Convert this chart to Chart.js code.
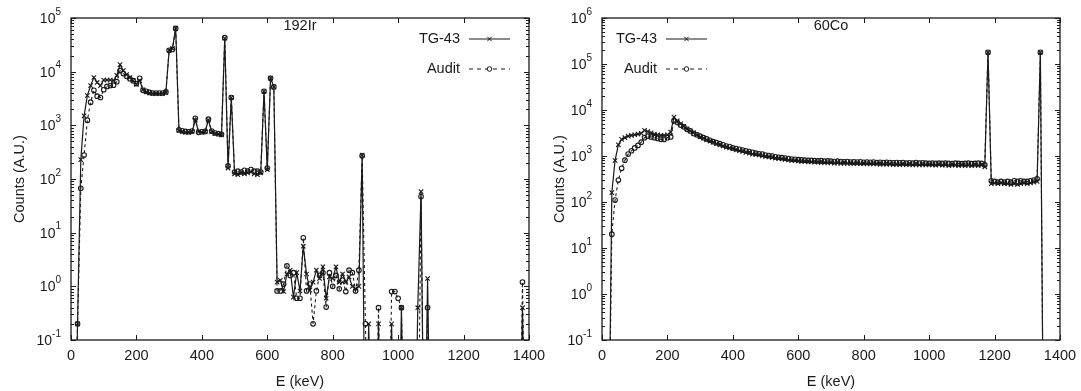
<!DOCTYPE html>
<html>
<head>
<meta charset="utf-8">
<title>192Ir / 60Co spectra</title>
<script src="https://cdn.jsdelivr.net/npm/chart.js@4.4.1/dist/chart.umd.min.js"></script>
<style>
  html, body { margin: 0; padding: 0; background: #fff; }
  #wrap { position: relative; width: 1081px; height: 391px; overflow: hidden; }
  .panel { position: absolute; top: 0; height: 391px; }
  #irPanel { left: 0; width: 560px; }
  #coPanel { left: 540px; width: 541px; }
</style>
</head>
<body>
<div id="wrap">
  <div class="panel" id="irPanel"><canvas id="irChart"></canvas></div>
  <div class="panel" id="coPanel"><canvas id="coChart"></canvas></div>
</div>
<script>
const FONT = "'Liberation Sans', Arial, Helvetica, sans-serif";
const INK = '#1a1a1a';
const EMPTY_BIN = 1e-4; // zero counts, drawn below the log axis

const seriesNames = ['TG-43', 'Audit'];
const xTickStep = 200;

// 192Ir spectrum, energy bins (keV)
const irEnergy = [
  10, 20, 30, 40, 50, 60, 70, 80, 90, 100,
  110, 120, 130, 140, 150, 160, 170, 180, 190, 200,
  210, 220, 230, 240, 250, 260, 270, 280, 290, 300,
  310, 320, 330, 340, 350, 360, 370, 380, 390, 400,
  410, 420, 430, 440, 450, 460, 470, 480, 490, 500,
  510, 520, 530, 540, 550, 560, 570, 580, 590, 600,
  610, 620, 630, 640, 650, 660, 670, 680, 690, 700,
  710, 720, 730, 740, 750, 760, 770, 780, 790, 800,
  810, 820, 830, 840, 850, 860, 870, 880, 890, 900,
  910, 920, 930, 940, 950, 960, 970, 980, 990, 1000,
  1010, 1020, 1050, 1060, 1070, 1080, 1090, 1100, 1370, 1380, 1390
];
const irTG43 = [
  0, 0.2, 230, 1500, 3600, 5500, 7800, 6300, 5500, 7000,
  7000, 7000, 6800, 8500, 13500, 10500, 8800, 7800, 6800, 5800,
  6800, 4600, 4200, 4000, 3900, 3900, 3900, 3900, 4100, 25000,
  27000, 65000, 800, 760, 740, 740, 760, 1250, 760, 740,
  760, 1250, 760, 700, 690, 660, 42000, 160, 3300, 125,
  120, 130, 125, 130, 135, 125, 120, 130, 4300, 150,
  7600, 5200, 1.2, 1.3, 0.8, 1.7, 2.0, 0.63, 1.8, 0.82,
  5.6, 1.7, 0.85, 1.2, 2.0, 1.4, 2.3, 0.6, 1.5, 1.4,
  2.3, 1.2, 1.7, 1.2, 1.5, 1.0, 0.9, 1.0, 280, 0,
  0.2, 0, 0, 0.2, 0, 0, 0, 0.2, 0, 0,
  0.4, 0, 0, 0.4, 58, 0, 1.4, 0, 0, 0.4, 0
];
const irAudit = [
  0, 0.2, 67, 280, 1250, 2700, 4500, 3500, 3300, 4600,
  5300, 5500, 5600, 6500, 10500, 9200, 8200, 7400, 6800, 6000,
  7500, 4500, 4300, 4100, 4000, 4000, 4000, 4000, 4200, 25000,
  26000, 64000, 820, 790, 770, 760, 780, 1350, 740, 760,
  770, 1300, 780, 720, 700, 680, 43000, 175, 3300, 135,
  140, 135, 145, 140, 150, 140, 140, 135, 4300, 160,
  7500, 5200, 0.82, 0.82, 1.1, 2.4, 1.6, 1.8, 0.6, 0.6,
  8, 0.82, 1.1, 0.2, 0.82, 1.6, 1.8, 0.41, 1.8, 1.0,
  1.6, 0.9, 1.3, 0.8, 2.0, 1.8, 0.82, 2.0, 270, 0.2,
  0, 0, 0, 0.4, 0, 0, 0, 0.8, 0.8, 0.6,
  0.4, 0, 0, 0, 47, 0, 0.4, 0, 0, 1.2, 0
];
const irDecades = [-1, 0, 1, 2, 3, 4, 5];

// 60Co spectrum, energy bins (keV)
const coEnergy = [
  20, 30, 40, 50, 60, 70, 80, 90, 100, 110,
  120, 130, 140, 150, 160, 170, 180, 190, 200, 210,
  220, 230, 240, 250, 260, 270, 280, 290, 300, 310,
  320, 330, 340, 350, 360, 370, 380, 390, 400, 410,
  420, 430, 440, 450, 460, 470, 480, 490, 500, 510,
  520, 530, 540, 550, 560, 570, 580, 590, 600, 610,
  620, 630, 640, 650, 660, 670, 680, 690, 700, 710,
  720, 730, 740, 750, 760, 770, 780, 790, 800, 810,
  820, 830, 840, 850, 860, 870, 880, 890, 900, 910,
  920, 930, 940, 950, 960, 970, 980, 990, 1000, 1010,
  1020, 1030, 1040, 1050, 1060, 1070, 1080, 1090, 1100, 1110,
  1120, 1130, 1140, 1150, 1160, 1170, 1180, 1190, 1200, 1210,
  1220, 1230, 1240, 1250, 1260, 1270, 1280, 1290, 1300, 1310,
  1320, 1330, 1340, 1350
];
const coTG43 = [
  0, 160, 800, 1750, 2300, 2500, 2700, 2800, 2900, 3000,
  3100, 3600, 3400, 3200, 3000, 2900, 2800, 2800, 2900, 3300,
  7000, 5800, 5000, 4400, 3900, 3500, 3200, 2900, 2600, 2450,
  2250, 2100, 2000, 1850, 1750, 1650, 1550, 1500, 1450, 1350,
  1300, 1250, 1200, 1150, 1100, 1080, 1050, 1000, 980, 950,
  920, 900, 870, 860, 840, 820, 800, 790, 780, 760,
  770, 740, 750, 730, 740, 720, 730, 710, 720, 700,
  710, 690, 700, 690, 700, 680, 690, 680, 690, 670,
  680, 670, 680, 660, 670, 660, 670, 650, 660, 650,
  660, 650, 660, 640, 650, 640, 650, 640, 650, 640,
  630, 650, 630, 640, 620, 640, 630, 620, 640, 620,
  630, 620, 630, 620, 640, 580, 180000, 250, 260, 250,
  260, 250, 250, 240, 250, 240, 250, 260, 250, 260,
  270, 280, 180000, 0
];
const coAudit = [
  0, 20, 110, 300, 540, 810, 1100, 1300, 1500, 1700,
  2000, 2500, 2700, 2600, 2500, 2400, 2300, 2300, 2500, 2600,
  5800, 5400, 4700, 4300, 3800, 3500, 3100, 2900, 2700, 2500,
  2350, 2200, 2050, 1950, 1850, 1750, 1650, 1600, 1500, 1450,
  1400, 1350, 1300, 1250, 1200, 1150, 1120, 1100, 1050, 1020,
  1000, 960, 940, 920, 900, 880, 860, 850, 830, 820,
  810, 800, 800, 790, 780, 790, 770, 780, 770, 760,
  770, 760, 750, 760, 740, 750, 740, 750, 730, 740,
  730, 740, 720, 730, 720, 730, 720, 710, 720, 710,
  720, 700, 710, 700, 720, 700, 710, 700, 690, 700,
  690, 700, 690, 700, 690, 680, 700, 690, 680, 690,
  700, 680, 690, 700, 690, 640, 180000, 290, 280, 270,
  280, 270, 280, 270, 290, 280, 290, 280, 280, 290,
  300, 320, 180000, 0
];
const coDecades = [-1, 0, 1, 2, 3, 4, 5, 6];

function toPoints(energy, counts) {
  return energy.map((e, i) => ({ x: e, y: counts[i] > 0 ? counts[i] : EMPTY_BIN }));
}

function drawMarker(ctx, style, x, y) {
  ctx.beginPath();
  if (style === 'cross') {
    const d = 2.2;
    ctx.moveTo(x - d, y - d); ctx.lineTo(x + d, y + d);
    ctx.moveTo(x - d, y + d); ctx.lineTo(x + d, y - d);
  } else {
    ctx.arc(x, y, 2.3, 0, Math.PI * 2);
  }
  ctx.stroke();
}

// gnuplot-like frame: box, inward ticks, 10^n labels, inside title and key
const gnuplotFrame = {
  id: 'gnuplotFrame',
  afterDraw(chart, args, opts) {
    const { ctx, chartArea: area, scales: { x, y } } = chart;
    ctx.save();
    ctx.strokeStyle = INK;
    ctx.fillStyle = INK;
    ctx.lineWidth = 1.3;
    ctx.setLineDash([]);
    ctx.strokeRect(area.left, area.top, area.right - area.left, area.bottom - area.top);

    ctx.lineWidth = 1;
    ctx.beginPath();
    x.ticks.forEach(t => {
      const px = Math.round(x.getPixelForValue(t.value)) + 0.5;
      ctx.moveTo(px, area.bottom); ctx.lineTo(px, area.bottom - 5);
      ctx.moveTo(px, area.top); ctx.lineTo(px, area.top + 5);
    });
    opts.decades.forEach(e => {
      for (let k = 1; k < 10; k++) {
        const v = k * Math.pow(10, e);
        if (v > y.max * 1.0001) break;
        const py = Math.round(y.getPixelForValue(v)) + 0.5;
        const len = k === 1 ? 5 : 3;
        ctx.moveTo(area.left, py); ctx.lineTo(area.left + len, py);
        ctx.moveTo(area.right, py); ctx.lineTo(area.right - len, py);
      }
    });
    ctx.stroke();

    // decade labels 10^n
    opts.decades.forEach(e => {
      const py = y.getPixelForValue(Math.pow(10, e));
      const exp = String(e);
      ctx.font = `10px ${FONT}`;
      const expW = ctx.measureText(exp).width;
      const right = area.left - 10;
      ctx.textBaseline = 'middle';
      ctx.textAlign = 'left';
      ctx.fillText(exp, right - expW, py - 6);
      ctx.font = `14px ${FONT}`;
      ctx.textAlign = 'right';
      ctx.fillText('10', right - expW, py + 1);
    });

    // title inside the frame
    ctx.font = `14.5px ${FONT}`;
    ctx.textAlign = 'center';
    ctx.textBaseline = 'middle';
    ctx.fillText(opts.title, (area.left + area.right) / 2, area.top + 8);

    // key
    const key = opts.key;
    seriesNames.forEach((name, i) => {
      const ky = area.top + 21 + i * 30;
      ctx.font = `14.5px ${FONT}`;
      ctx.textAlign = 'right';
      ctx.fillText(name, area.left + key.textRight, ky);
      ctx.beginPath();
      ctx.setLineDash(i === 0 ? [] : [4, 4]);
      ctx.moveTo(area.left + key.lineStart, ky);
      ctx.lineTo(area.left + key.lineEnd, ky);
      ctx.stroke();
      ctx.setLineDash([]);
      const mx = area.left + (key.lineStart + key.lineEnd) / 2;
      if (i === 1) {
        ctx.save();
        ctx.fillStyle = '#fff';
        ctx.beginPath(); ctx.arc(mx, ky, 2.3, 0, Math.PI * 2); ctx.fill();
        ctx.restore();
      }
      drawMarker(ctx, i === 0 ? 'cross' : 'circle', mx, ky);
    });
    ctx.restore();
  }
};

function buildChart(canvasId, energy, tg, audit, cfg) {
  const ctx = document.getElementById(canvasId).getContext('2d');
  return new Chart(ctx, {
    type: 'line',
    data: {
      datasets: [{
        label: seriesNames[0],
        data: toPoints(energy, tg),
        borderColor: INK,
        borderWidth: 1.2,
        tension: 0,
        pointStyle: 'crossRot',
        pointRadius: 3.1,
        pointBorderWidth: 1.1,
        pointBorderColor: INK,
        pointBackgroundColor: INK
      }, {
        label: seriesNames[1],
        data: toPoints(energy, audit),
        borderColor: INK,
        borderWidth: 1.1,
        borderDash: [3, 3],
        tension: 0,
        pointStyle: 'circle',
        pointRadius: 2.3,
        pointBorderWidth: 1.1,
        pointBorderColor: INK,
        pointBackgroundColor: 'rgba(0,0,0,0)'
      }]
    },
    options: {
      responsive: true,
      maintainAspectRatio: false,
      animation: false,
      events: [],
      layout: { padding: { top: 18, right: cfg.padRight, left: 0, bottom: 0 } },
      plugins: {
        legend: { display: false },
        tooltip: { enabled: false },
        gnuplotFrame: { title: cfg.title, decades: cfg.decades, key: cfg.key }
      },
      scales: {
        x: {
          type: 'linear',
          min: 0,
          max: 1400,
          grid: { display: false, drawTicks: false },
          border: { display: false },
          ticks: {
            stepSize: xTickStep, padding: 7, color: INK, maxRotation: 0,
            font: { family: FONT, size: 14.5 },
            callback: v => String(v)
          },
          title: { display: true, text: 'E (keV)', color: INK, font: { family: FONT, size: 14.5 }, padding: { top: 4, bottom: 0 } },
          afterFit: s => { s.height = 51; s.paddingLeft = 0; s.paddingRight = 0; }
        },
        y: {
          type: 'logarithmic',
          min: 0.1,
          max: cfg.yMax,
          grid: { display: false, drawTicks: false },
          border: { display: false },
          ticks: { display: false },
          title: { display: true, text: 'Counts (A.U.)', color: INK, font: { family: FONT, size: 14.5 }, padding: { top: 11, bottom: 0 } },
          afterFit: s => { s.width = cfg.yWidth; s.paddingTop = 0; s.paddingBottom = 0; }
        }
      }
    },
    plugins: [gnuplotFrame]
  });
}

buildChart('irChart', irEnergy, irTG43, irAudit, {
  title: '192Ir', yMax: 1e5, decades: irDecades, yWidth: 71, padRight: 31,
  key: { textRight: 389, lineStart: 398, lineEnd: 439 }
});
buildChart('coChart', coEnergy, coTG43, coAudit, {
  title: '60Co', yMax: 1e6, decades: coDecades, yWidth: 62, padRight: 21,
  key: { textRight: 55, lineStart: 64, lineEnd: 105 }
});
</script>
</body>
</html>
